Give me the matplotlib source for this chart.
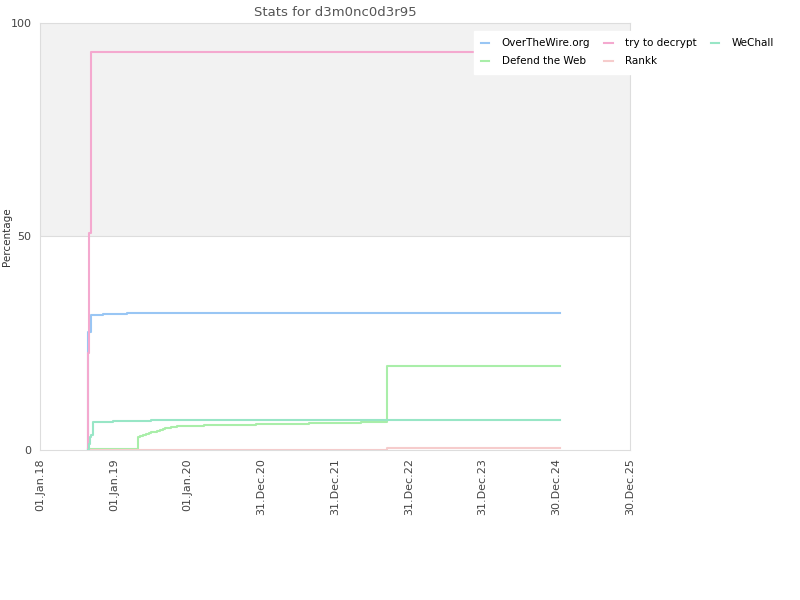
import matplotlib
matplotlib.use("Agg")
import matplotlib.pyplot as plt
import pandas as pd

title = "Stats for d3m0nc0d3r95"

otw_dates = ["2018-08-26", "2018-08-27", "2018-08-29", "2018-09-09", "2018-11-09", "2019-03-07", "2025-01-18"]
otw_vals = [0, 15, 27.6, 31.6, 31.8, 32.1, 32.1]

dtw_dates = ["2018-08-26", "2019-05-01", "2019-05-12", "2019-05-25", "2019-06-08", "2019-06-22",
             "2019-07-06", "2019-07-20", "2019-08-03", "2019-08-17", "2019-08-31", "2019-09-14",
             "2019-09-28", "2019-10-12", "2019-10-26", "2019-11-10", "2020-03-22", "2020-12-05",
             "2021-08-24", "2022-05-09", "2022-09-14", "2025-01-18"]
dtw_vals = [0.3, 3.1, 3.3, 3.5, 3.7, 3.9, 4.1, 4.3, 4.5, 4.7, 4.9, 5.1, 5.25, 5.4, 5.5, 5.62,
            5.93, 6.17, 6.40, 6.63, 19.7, 19.7]

ttd_dates = ["2018-08-26", "2018-08-27", "2018-08-28", "2018-08-31", "2018-09-08", "2025-01-18"]
ttd_vals = [0, 10, 22.7, 50.8, 93.2, 93.2]

rankk_dates = ["2018-08-26", "2022-09-14", "2025-01-18"]
rankk_vals = [0, 0.55, 0.55]

wechall_dates = ["2018-08-26", "2018-08-30", "2018-09-03", "2018-09-12", "2018-09-18",
                 "2018-12-28", "2019-07-04", "2025-01-18"]
wechall_vals = [0, 1.5, 3.0, 3.5, 6.6, 6.9, 7.1, 7.1]

series = [
    ("OverTheWire.org", otw_dates, otw_vals, "#99c6f4"),
    ("Defend the Web", dtw_dates, dtw_vals, "#a9eea9"),
    ("try to decrypt", ttd_dates, ttd_vals, "#f4a9cf"),
    ("Rankk", rankk_dates, rankk_vals, "#f6cccc"),
    ("WeChall", wechall_dates, wechall_vals, "#98e6c6"),
]

tick_labels = ["01.Jan.18", "01.Jan.19", "01.Jan.20", "31.Dec.20", "31.Dec.21",
               "31.Dec.22", "31.Dec.23", "30.Dec.24", "30.Dec.25"]
tick_dates = ["2018-01-01", "2019-01-01", "2020-01-01", "2020-12-31", "2021-12-31",
              "2022-12-31", "2023-12-31", "2024-12-30", "2025-12-30"]

plt.rcParams['font.family'] = ['DejaVu Sans']
fig = plt.figure(figsize=(8, 6), dpi=100)
ax = fig.add_axes([0.05, 0.25, 0.7375, 0.7117])

ax.axhspan(50, 100, color="#f2f2f2", zorder=0, lw=0)
ax.axhline(50, color="#dddddd", lw=0.8, zorder=0.5)

for name, d, v, c in series:
    ax.plot(pd.to_datetime(d), v, drawstyle="steps-post", color=c, lw=1.5, label=name, zorder=2)

ax.set_xlim(pd.Timestamp("2018-01-01"), pd.Timestamp("2025-12-30"))
ax.set_ylim(0, 100)
ax.set_xticks(pd.to_datetime(tick_dates))
ax.set_xticklabels(tick_labels, rotation=90, fontsize=8, color="#444444")
ax.set_yticks([0, 50, 100])
ax.set_yticklabels(["0", "50", "100"], fontsize=8, color="#444444")
ax.tick_params(length=0, pad=6)
for s in ax.spines.values():
    s.set_color("#dddddd")
ax.set_ylabel("Percentage", fontsize=7.5, color="#333333")
ax.yaxis.set_label_coords(-0.048, 0.5)
ax.set_title(title, fontsize=9.5, color="#555555", pad=5)

leg = fig.legend(loc="upper left", bbox_to_anchor=(0.592, 0.948), ncol=3, fontsize=7.5,
                 frameon=True, handlelength=0.8, columnspacing=1.35, handletextpad=1.2,
                 borderaxespad=0.3, labelspacing=0.75)
leg.get_frame().set_edgecolor("white")
leg.get_frame().set_facecolor("white")
leg.get_frame().set_alpha(1)
leg.get_frame().set_boxstyle("square", pad=0.3)

fig.savefig("out.png", dpi=100)
